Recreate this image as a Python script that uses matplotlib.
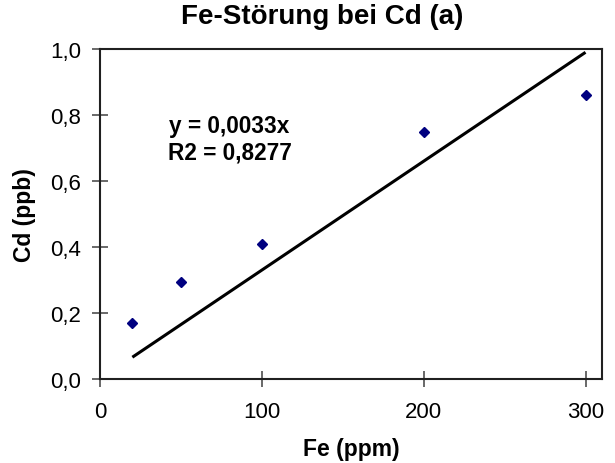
import matplotlib
matplotlib.use("Agg")
import matplotlib.pyplot as plt
from matplotlib.ticker import FuncFormatter
import numpy as np

plt.rcParams['font.family'] = ['Liberation Sans', 'DejaVu Sans']

# Fe concentration (ppm) and measured Cd signal (ppb)
fe_ppm = [20, 50, 100, 200, 300]
cd_ppb = [0.17, 0.295, 0.41, 0.75, 0.86]

# Linear fit through origin
slope = 0.0033
r2 = 0.8277

title = "Fe-Störung bei Cd (a)"
x_label = "Fe (ppm)"
y_label = "Cd (ppb)"
x_ticks = [0, 100, 200, 300]
y_ticks = [0.0, 0.2, 0.4, 0.6, 0.8, 1.0]

fig = plt.figure(figsize=(6.15, 4.64), dpi=100)
ax = fig.add_axes([100/615, 1-380/464, (601.7-100)/615, 330/464])

fit_x = np.array([min(fe_ppm), max(fe_ppm)])
ax.plot(fit_x, slope * fit_x, color='black', lw=2.2, solid_capstyle='butt', zorder=2)
ax.plot(fe_ppm, cd_ppb, linestyle='none', marker='D', ms=5.2,
        color='#000080', zorder=3)

ax.set_xlim(0, 310)
ax.set_ylim(0, 1.0)
ax.set_xticks(x_ticks)
ax.set_yticks(y_ticks)
ax.yaxis.set_major_formatter(FuncFormatter(lambda v, p: f"{v:.1f}".replace('.', ',')))
ax.tick_params(direction='inout', length=11, width=1.1, labelsize=16,
               color='#404040')
ax.tick_params(axis='x', pad=10)
ax.tick_params(axis='y', pad=8)
for s in ax.spines.values():
    s.set_linewidth(1.5)
    s.set_color('#202020')

ax.set_xlabel(x_label, fontsize=16.5, fontweight='bold', labelpad=11)
ax.set_ylabel(y_label, fontsize=16.5, fontweight='bold', labelpad=10)
fig.text(322/615, 1-17/464, title, ha='center', va='center',
         fontsize=20, fontweight='bold')

eq = f"y = {slope:.4f}x".replace('.', ',') + "\n" + f"R2 = {r2:.4f}".replace('.', ',')
ax.text(80, 0.727, eq, ha='center', va='center', fontsize=16.3,
        fontweight='bold', linespacing=1.2)

fig.savefig("out.png", dpi=100)
